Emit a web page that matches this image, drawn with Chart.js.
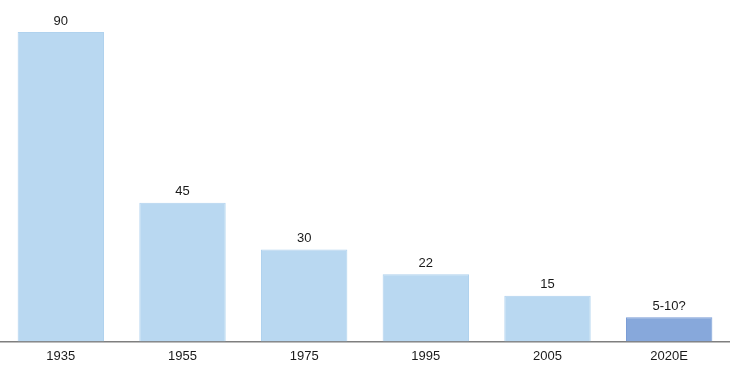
<!DOCTYPE html>
<html>
<head>
<meta charset="utf-8">
<script src="https://cdn.jsdelivr.net/npm/chart.js@4/dist/chart.umd.min.js"></script>
<style>
  html, body { margin: 0; padding: 0; background: #fff; }
  #wrap { width: 730px; height: 382px; }
</style>
</head>
<body>
<div id="wrap"><canvas id="barChart"></canvas></div>
<script>
// chart data
const years = ["1935", "1955", "1975", "1995", "2005", "2020E"];
// bar heights as drawn in the picture (not exactly proportional to the labels)
const barHeights = [90, 40.3, 26.7, 19.5, 13.3, 7];
const valueLabels = ["90", "45", "30", "22", "15", "5-10?"];

const lightBlue = "#b9d8f1";
const darkBlue = "#87a8db";
const barColors = years.map((y, i) => i === years.length - 1 ? darkBlue : lightBlue);
const barBorders = years.map((y, i) => i === years.length - 1 ? "#7b9dd6" : "#b0d2ee");

// draws the text above each bar
const valueLabelPlugin = {
  id: "valueLabels",
  afterDatasetsDraw(chart) {
    const ctx = chart.ctx;
    const meta = chart.getDatasetMeta(0);
    ctx.save();
    ctx.font = "13px 'Liberation Sans', Arial, sans-serif";
    ctx.fillStyle = "#1a1a1a";
    ctx.textAlign = "center";
    ctx.textBaseline = "middle";
    meta.data.forEach((bar, i) => {
      ctx.fillText(valueLabels[i], bar.x, bar.y - 11);
    });
    ctx.restore();
  }
};

const ctx = document.getElementById("barChart").getContext("2d");
new Chart(ctx, {
  type: "bar",
  data: {
    labels: years,
    datasets: [
      {
        data: barHeights,
        backgroundColor: barColors,
        borderColor: barBorders,
        borderWidth: 1,
        barPercentage: 0.71,
        categoryPercentage: 1
      }
    ]
  },
  options: {
    responsive: true,
    maintainAspectRatio: false,
    animation: false,
    layout: { padding: { top: 32, bottom: 11, left: 0, right: 0 } },
    plugins: {
      legend: { display: false },
      tooltip: { enabled: false }
    },
    scales: {
      x: {
        grid: { display: false, drawTicks: false },
        border: { display: true, color: "#7f7f7f", width: 1.5 },
        ticks: {
          padding: 7,
          color: "#1a1a1a",
          font: { family: "'Liberation Sans', Arial, sans-serif", size: 13 }
        }
      },
      y: {
        display: false,
        min: 0,
        max: 90
      }
    }
  },
  plugins: [valueLabelPlugin]
});
</script>
</body>
</html>
